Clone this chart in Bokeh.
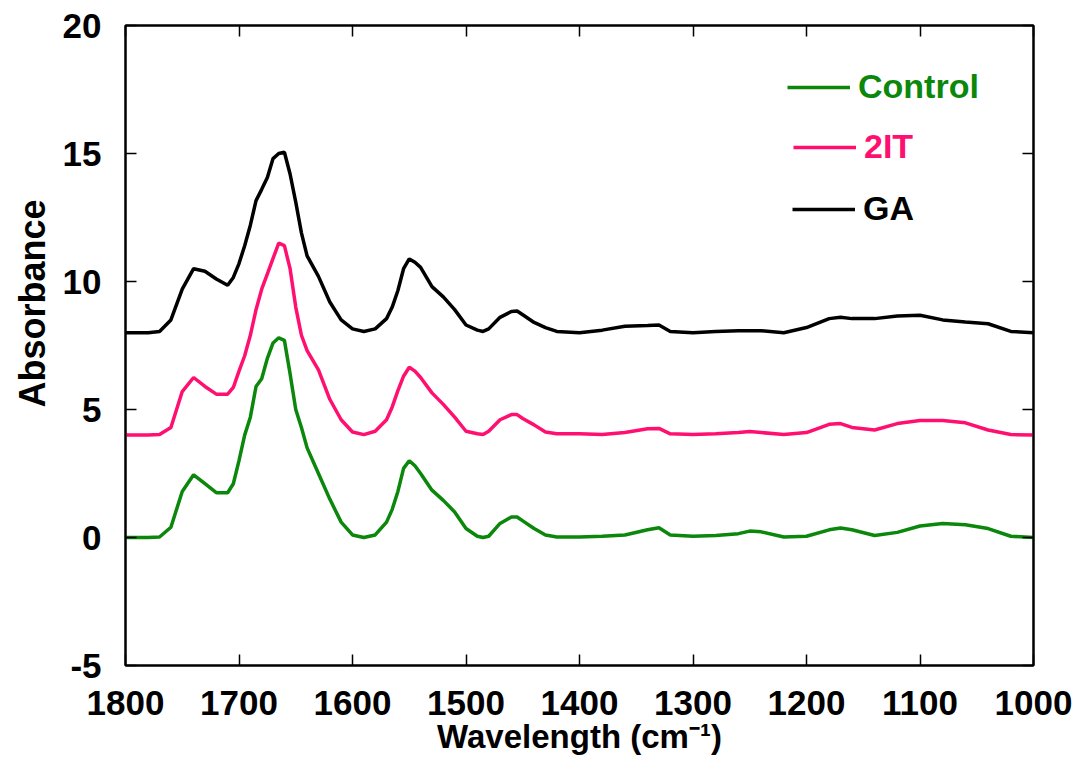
from bokeh.plotting import figure
from bokeh.models import (Range1d, LinearAxis, FixedTicker, CustomJSTickFormatter,
                          Title, Legend, LegendItem, ColumnDataSource)
from bokeh.embed import file_html
from bokeh.resources import INLINE

# ---------------- data ----------------
wavenumber = [1800, 1780, 1770, 1760, 1750, 1740, 1730, 1720, 1710, 1705, 1700, 1695, 1690,
              1685, 1680, 1675, 1670, 1665, 1660, 1655, 1650, 1645, 1640, 1630, 1620, 1610,
              1600, 1590, 1580, 1570, 1565, 1560, 1555, 1550, 1545, 1540, 1530, 1520, 1510,
              1500, 1490, 1485, 1480, 1470, 1460, 1455, 1450, 1440, 1430, 1420, 1400, 1380,
              1360, 1340, 1330, 1320, 1300, 1280, 1260, 1250, 1240, 1220, 1200, 1180, 1170,
              1160, 1140, 1120, 1100, 1080, 1060, 1040, 1020, 1000]

control = [0.0, 0.0, 0.02, 0.4, 1.8, 2.45, 2.1, 1.75, 1.75, 2.1, 3.0, 4.0, 4.7,
           5.9, 6.2, 7.0, 7.6, 7.8, 7.7, 6.4, 5.0, 4.3, 3.5, 2.5, 1.5, 0.6,
           0.1, 0.0, 0.1, 0.6, 1.1, 1.8, 2.7, 3.0, 2.8, 2.5, 1.85, 1.45, 1.0,
           0.35, 0.05, 0.0, 0.05, 0.55, 0.8, 0.8, 0.65, 0.35, 0.1, 0.02, 0.02, 0.05,
           0.1, 0.3, 0.38, 0.1, 0.05, 0.08, 0.15, 0.25, 0.22, 0.02, 0.05, 0.3, 0.37,
           0.3, 0.08, 0.2, 0.45, 0.55, 0.5, 0.35, 0.05, 0.0]

it2 = [4.0, 4.0, 4.02, 4.3, 5.7, 6.25, 5.9, 5.6, 5.6, 5.86, 6.5, 7.1, 7.9,
       8.9, 9.7, 10.3, 10.9, 11.5, 11.4, 10.5, 9.0, 7.9, 7.3, 6.55, 5.4, 4.6,
       4.12, 4.02, 4.15, 4.6, 5.1, 5.74, 6.3, 6.65, 6.5, 6.25, 5.65, 5.2, 4.7,
       4.15, 4.05, 4.02, 4.15, 4.6, 4.8, 4.8, 4.65, 4.4, 4.12, 4.05, 4.05, 4.02,
       4.1, 4.25, 4.26, 4.05, 4.02, 4.05, 4.1, 4.14, 4.1, 4.02, 4.1, 4.42, 4.45,
       4.3, 4.2, 4.45, 4.57, 4.57, 4.48, 4.2, 4.02, 4.0]

ga = [8.0, 8.0, 8.05, 8.5, 9.7, 10.5, 10.4, 10.1, 9.85, 10.16, 10.7, 11.4, 12.2,
      13.16, 13.6, 14.06, 14.8, 15.0, 15.05, 14.2, 13.1, 11.9, 11.0, 10.2, 9.2, 8.5,
      8.15, 8.05, 8.15, 8.55, 9.0, 9.65, 10.5, 10.88, 10.75, 10.55, 9.8, 9.4, 8.9,
      8.3, 8.1, 8.05, 8.15, 8.6, 8.83, 8.85, 8.7, 8.4, 8.2, 8.05, 8.0, 8.1,
      8.25, 8.28, 8.3, 8.05, 8.0, 8.05, 8.08, 8.08, 8.08, 8.0, 8.2, 8.55, 8.6,
      8.55, 8.55, 8.65, 8.68, 8.5, 8.42, 8.35, 8.05, 8.0]

series_names = ["Control", "2IT", "GA"]
series_colors = ["#0B870B", "#FF1070", "#000000"]
x_ticks = [1800, 1700, 1600, 1500, 1400, 1300, 1200, 1100, 1000]
y_ticks = [-5, 0, 5, 10, 15, 20]
y_tick_labels = {-5: "-5", 0: "0", 5: "5", 10: "10", 15: "15", 20: "20"}
x_title = "Wavelength (cm\u207b\u00b9)"
y_title = "Absorbance"

FONT = "Liberation Sans"

# ---------------- figure ----------------
p = figure(width=1076, height=780, output_backend="svg", toolbar_location=None,
           x_range=Range1d(1800, 1000), y_range=Range1d(-5, 20),
           min_border_left=125, min_border_right=43, min_border_top=25, min_border_bottom=115,
           background_fill_color="white", border_fill_color="white")
p.xgrid.visible = False
p.ygrid.visible = False
p.outline_line_color = "black"
p.outline_line_width = 2

def style_axis(ax, ticks, labels=True):
    ax.ticker = FixedTicker(ticks=ticks)
    ax.axis_line_color = "black"
    ax.axis_line_width = 2
    ax.major_tick_in = 11
    ax.major_tick_out = 0
    ax.major_tick_line_color = "black"
    ax.major_tick_line_width = 1.5
    ax.minor_tick_line_color = None
    if labels:
        ax.major_label_text_font = FONT
        ax.major_label_text_font_style = "bold"
        ax.major_label_text_font_size = "35px"
        ax.major_label_text_color = "black"
    else:
        ax.formatter = CustomJSTickFormatter(code="return ''")
        ax.major_label_text_font_size = "1px"
        ax.major_label_standoff = 0

xa = p.xaxis[0]
style_axis(xa, x_ticks)
xa.major_label_standoff = 25
xa.axis_label = x_title
xa.axis_label_text_font = FONT
xa.axis_label_text_font_style = "bold"
xa.axis_label_text_font_size = "33px"
xa.axis_label_text_color = "black"
xa.axis_label_standoff = 0

ya = p.yaxis[0]
style_axis(ya, y_ticks)
ya.major_label_standoff = 24
ya.major_label_overrides = y_tick_labels

top_ax = LinearAxis()
style_axis(top_ax, x_ticks, labels=False)
p.add_layout(top_ax, "above")
right_ax = LinearAxis()
style_axis(right_ax, y_ticks, labels=False)
p.add_layout(right_ax, "right")

# y title as a side title so it can sit above the frame centre like the reference
p.add_layout(Title(text=y_title, align="left", offset=258, standoff=13,
                   text_font=FONT, text_font_style="bold", text_font_size="36px",
                   text_color="black"), "left")

# ---------------- lines ----------------
src = ColumnDataSource(dict(w=wavenumber, control=control, it2=it2, ga=ga))
renderers = []
for col, color in zip(["control", "it2", "ga"], series_colors):
    r = p.line("w", col, source=src, line_color=color, line_width=3.5)
    renderers.append(r)

# ---------------- legend (three separate entries, coloured labels) ----------------
leg_pos = [(662, 559), (668, 499), (667, 437)]
for name, color, r, pos in zip(series_names, series_colors, renderers, leg_pos):
    leg = Legend(items=[LegendItem(label=name, renderers=[r])], location=pos,
                 padding=0, margin=0, spacing=0, border_line_color=None,
                 background_fill_alpha=0, glyph_width=63, glyph_height=34,
                 label_height=34, label_standoff=8,
                 label_text_font=FONT, label_text_font_style="bold",
                 label_text_font_size="34px", label_text_color=color)
    p.add_layout(leg)

open("out.html", "w").write(file_html(p, INLINE))
